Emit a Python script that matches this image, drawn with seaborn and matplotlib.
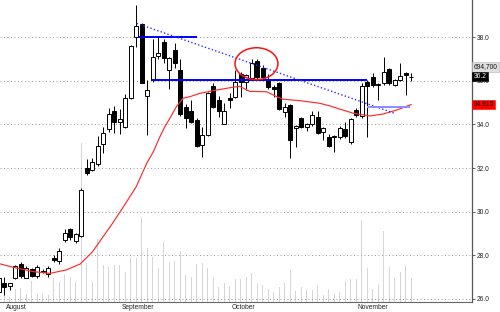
import numpy as np
import pandas as pd
import matplotlib
matplotlib.use("Agg")
import matplotlib.pyplot as plt
import matplotlib.transforms as mtransforms
from matplotlib.patches import Ellipse
import seaborn as sns

# ---------------- data ----------------
opens = [26.3, 26.75, 26.58, 26.95, 27.6, 26.97, 27.35, 27.05, 27.25, 27.15,
         27.87, 27.72, 28.7, 29.2, 28.67, 28.9, 32.0, 31.9, 32.2, 33.1,
         33.8, 34.62, 34.1, 33.9, 35.2, 38.0, 38.6, 35.3, 36.05, 37.12,
         37.8, 36.5, 37.4, 36.5, 34.8, 34.6, 34.2, 33.05, 33.52, 35.77,
         35.1, 34.02, 35.23, 35.28, 36.3, 35.96, 36.12, 36.9, 36.6, 36.04,
         35.73, 35.9, 34.59, 34.9, 33.83, 34.31, 33.9, 34.01, 34.36, 33.64,
         33.41, 33.42, 33.41, 33.78, 33.18, 34.66, 34.4, 35.96, 36.19, 35.82,
         35.89, 36.53, 35.81, 36.04, 36.35, 36.17]
highs = [27.0, 27.0, 26.75, 27.55, 27.7, 27.5, 27.4, 27.55, 27.35, 27.5,
         28.0, 28.35, 29.2, 29.25, 29.0, 31.1, 32.4, 32.45, 33.45, 33.9,
         34.75, 34.85, 34.7, 35.4, 37.65, 39.5, 38.65, 36.05, 37.9, 38.0,
         37.9, 37.1, 37.75, 37.0, 34.95, 35.1, 34.3, 33.9, 35.5, 35.9,
         35.3, 34.97, 35.45, 36.5, 36.4, 36.3, 37.0, 37.0, 36.75, 36.3,
         35.8, 35.95, 34.97, 34.95, 33.97, 34.35, 34.05, 34.6, 34.6, 33.9,
         33.55, 33.5, 33.95, 34.13, 34.3, 34.75, 35.9, 36.05, 36.35, 35.9,
         37.08, 36.6, 36.1, 36.8, 36.4, 36.35]
lows = [26.2, 26.2, 26.4, 26.9, 26.95, 26.95, 27.0, 26.95, 27.2, 27.0,
        27.7, 27.6, 28.6, 28.7, 28.55, 28.85, 31.7, 31.85, 32.1, 32.7,
        33.65, 33.6, 33.55, 33.85, 35.15, 37.55, 35.9, 33.5, 35.95, 37.0,
        36.8, 35.65, 36.6, 34.4, 33.85, 34.05, 32.95, 32.5, 33.45, 34.75,
        34.35, 34.0, 34.75, 35.2, 35.28, 35.58, 36.05, 36.1, 36.1, 35.65,
        35.28, 34.65, 34.33, 32.45, 32.98, 33.85, 33.72, 33.95, 33.55, 33.29,
        32.95, 32.75, 33.35, 33.4, 33.1, 34.35, 34.3, 33.44, 35.7, 35.12,
        35.8, 35.8, 35.75, 36.0, 35.35, 36.0]
closes = [26.95, 26.55, 26.72, 27.5, 27.05, 27.43, 27.03, 27.45, 27.3, 27.4,
          27.76, 28.2, 29.0, 28.83, 28.98, 31.0, 31.77, 32.3, 33.03, 33.62,
          34.5, 34.13, 34.25, 35.23, 37.6, 38.5, 35.92, 35.6, 37.1, 37.27,
          37.05, 37.05, 36.8, 34.5, 34.3, 34.13, 33.03, 33.52, 35.43, 34.82,
          34.62, 34.62, 35.12, 35.96, 35.93, 36.27, 36.83, 36.2, 36.2, 35.72,
          35.62, 34.7, 34.82, 33.29, 33.93, 33.9, 34.01, 34.44, 33.62, 33.83,
          33.03, 33.45, 33.83, 33.47, 34.24, 34.44, 35.78, 35.78, 35.81, 35.85,
          36.42, 35.92, 36.04, 36.22, 36.25, 36.2]
volumes = [250000, 250000, 150000, 370000, 400000, 230000, 615000, 230000, 250000, 200000,
           695000, 595000, 795000, 745000, 595000, 4715000, 1140000, 595000, 1855000, 1090000,
           1040000, 1090000, 1090000, 890000, 1290000, 1290000, 2475000, 1585000, 1320000, 1000000,
           1780000, 1170000, 1220000, 1515000, 795000, 745000, 1120000, 1160000, 1010000, 745000,
           445000, 545000, 465000, 675000, 675000, 725000, 845000, 515000, 485000, 370000,
           290000, 445000, 545000, 940000, 320000, 445000, 350000, 350000, 495000, 200000,
           370000, 230000, 300000, 615000, 665000, 685000, 2425000, 1010000, 375000, 515000,
           2100000, 1020000, 695000, 880000, 1060000, 694700]

# moving average curve (day index, price)
ma_x = [0, 2.6, 6.3, 9.3, 12.3, 14.8, 17.0, 18.4, 20.5, 22.6, 25.0, 26.9, 28.1,
        29.3, 30.2, 31.1, 32.3, 33.5, 34.8, 36.6, 39.6, 42.6, 43.8, 45.6, 48.7,
        50.5, 51.7, 54.8, 58.4, 60.2, 64.5, 67.5, 69.9, 72.3, 75.0]
ma_vals = [27.62, 27.45, 27.25, 27.17, 27.33, 27.6, 28.15, 28.65, 29.4, 30.2, 31.15,
           32.22, 32.75, 33.44, 33.9, 34.28, 34.82, 35.2, 35.28, 35.43, 35.58, 35.71,
           35.75, 35.52, 35.5, 35.28, 35.16, 35.09, 34.97, 34.85, 34.51, 34.39,
           34.48, 34.66, 34.915]

month_labels = ["August", "September", "October", "November"]
month_idx = [1, 22, 42, 65]
price_ticks = [26.0, 28.0, 30.0, 32.0, 34.0, 36.0, 38.0]

# drawn annotations (day index, price)
top_line_x = [25.55, 35.98]
top_line_y = [38.0, 38.0]
mid_line_x = [27.8, 66.9]
mid_line_y = [36.04, 36.04]
down_line_x = [25.07, 72.0]
down_line_y = [38.64, 34.51]
low_line_x = [66.9, 74.8]
low_line_y = [34.82, 34.82]
circle_center = (46.85, 36.79)
circle_size = (7.8, 1.46)

# ---------------- drawing ----------------
sns.set_style("white")
plt.rcParams["font.family"] = ["Liberation Sans", "DejaVu Sans"]

fig = plt.figure(figsize=(5.0, 3.12), dpi=100)
axv = fig.add_axes([0.0, 10.3 / 312, 472 / 500, 301.7 / 312])
axp = axv.twinx()

days = np.arange(len(closes))
o = np.array(opens); c = np.array(closes)
h = np.array(highs); l = np.array(lows)

vol_df = pd.DataFrame({"day": days, "volume": volumes})
sns.barplot(data=vol_df, x="day", y="volume", native_scale=True, width=0.2,
            color="#d6d6d6", saturation=1, errorbar=None, linewidth=0, ax=axv)
axv.set_ylim(0, 8957000)
axv.set_xlim(0.22, 86.04)
axv.set_xlabel(""); axv.set_ylabel("")
axv.set_yticks([])

# candles
up = c >= o
axp.vlines(days, l, h, color="black", lw=0.7, zorder=3)
body_h = np.maximum(np.abs(c - o), 0.02)
axp.bar(days, body_h, bottom=np.minimum(o, c), width=0.7,
        color=np.where(up, "white", "black"), edgecolor="black",
        linewidth=0.7, zorder=4)

# moving average
sns.lineplot(x=ma_x, y=ma_vals, ax=axp, color="#ff2a2a", lw=0.85, zorder=5,
             sort=False)

# trend lines
axp.plot(top_line_x, top_line_y, color="#0000ff", lw=1.4, zorder=6, solid_capstyle="butt")
axp.plot(mid_line_x, mid_line_y, color="#0000ff", lw=1.4, zorder=6, solid_capstyle="butt")
axp.plot(down_line_x, down_line_y, color="#2b2bff", lw=1.0, ls=(0, (1, 1.6)), zorder=6)
axp.plot(low_line_x, low_line_y, color="#8c8cff", lw=1.4, zorder=6, solid_capstyle="butt")
axp.add_patch(Ellipse(circle_center, circle_size[0], circle_size[1], fill=False,
                      ec="#ff1010", lw=1.1, zorder=7))

axp.set_ylim(25.87, 39.71)
axp.set_xlim(0.22, 86.04)
axp.set_yticks(price_ticks)
axp.set_yticklabels([f"{v:.1f}" for v in price_ticks])
axp.set_ylabel("")
axp.tick_params(axis="y", length=2, width=0.6, pad=1.2, labelsize=4.8,
                colors="#444444", labelcolor="#222222")
axp.grid(axis="y", ls=(0, (1, 2.6)), color="#9a9a9a", lw=0.7)
axp.set_axisbelow(True)

axv.set_xticks(month_idx)
axv.set_xticklabels(month_labels, ha="left")
axv.tick_params(axis="x", length=2.5, width=0.6, pad=-1.0, labelsize=4.8,
                colors="#444444", labelcolor="#222222")
shift = mtransforms.ScaledTranslation(1.5 / 100, 0, fig.dpi_scale_trans)
for lab in axv.get_xticklabels():
    lab.set_transform(lab.get_transform() + shift)

for sp in ["top", "left", "right"]:
    axv.spines[sp].set_visible(False)
axv.spines["bottom"].set_color("#666666")
axv.spines["bottom"].set_linewidth(0.8)
for sp in ["top", "left", "bottom"]:
    axp.spines[sp].set_visible(False)
axp.spines["right"].set_color("#555555")
axp.spines["right"].set_linewidth(0.9)

# value boxes on the right
trans = mtransforms.blended_transform_factory(axp.transAxes, axp.transData)
vol_trans = mtransforms.offset_copy(trans, fig=fig, x=1.5, y=9.5, units="dots")
axp.text(1.0, closes[-1], f"{volumes[-1]:,}", transform=vol_trans, ha="left",
         va="center", fontsize=4.8, color="#111111", zorder=10, clip_on=False,
         bbox=dict(boxstyle="square,pad=0.18", fc="#dedede", ec="#b5b5b5", lw=0.4))
lab_trans = mtransforms.offset_copy(trans, fig=fig, x=1.5, y=0, units="dots")
axp.text(1.0, closes[-1], f"{closes[-1]:.1f}", transform=lab_trans, ha="left",
         va="center", fontsize=4.8, color="white", zorder=10, clip_on=False,
         bbox=dict(boxstyle="square,pad=0.18", fc="black", ec="black", lw=0.4))
axp.text(1.0, ma_vals[-1], f"{ma_vals[-1]:.3f}", transform=lab_trans, ha="left",
         va="center", fontsize=4.8, color="#111111", zorder=10, clip_on=False,
         bbox=dict(boxstyle="square,pad=0.18", fc="#ff0000", ec="#ff0000", lw=0.4))

fig.savefig("out.png", dpi=100)
